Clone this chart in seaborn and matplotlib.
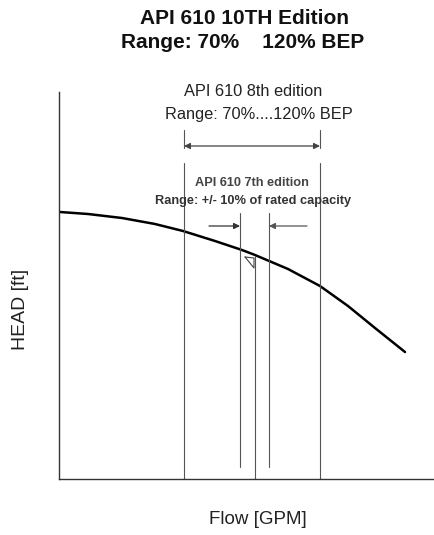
import numpy as np
import pandas as pd
import matplotlib
matplotlib.use("Agg")
import matplotlib.pyplot as plt
import seaborn as sns

# pump curve (flow, head in arbitrary units)
flow = [1, 29, 63, 96, 124, 156, 183, 196, 229, 261, 289, 316, 346]
head = [267, 265, 261, 255, 248, 238, 229, 224, 210, 193, 173, 151, 127]

# marker positions on the flow axis
q_70 = 125
q_bep = 196
q_minus10 = 181
q_plus10 = 210
q_120 = 261

title_lines = ["API 610 10TH Edition", "Range: 70%    120% BEP"]
label_8th = ["API 610 8th edition", "Range: 70%....120% BEP"]
label_7th = ["API 610 7th edition", "Range: +/- 10% of rated capacity"]

sns.set_style("white")
plt.rcParams["font.family"] = ["Liberation Sans", "DejaVu Sans"]

fig = plt.figure(figsize=(4.35, 5.35), dpi=100)
ax = fig.add_axes([59 / 435, 1 - 479 / 535, 376 / 435, 387 / 535])

df = pd.DataFrame({"flow": flow, "head": head})
sns.lineplot(data=df, x="flow", y="head", ax=ax, color="black", linewidth=1.8)

ax.set_xlim(0, 376)
ax.set_ylim(0, 387)
ax.set_xticks([])
ax.set_yticks([])
for side in ["top", "right"]:
    ax.spines[side].set_visible(False)
for side in ["left", "bottom"]:
    ax.spines[side].set_color("#333333")
    ax.spines[side].set_linewidth(1.0)

ax.set_xlabel("")
ax.set_ylabel("")
fig.text(258 / 435, 1 - 520 / 535, "Flow [GPM]", ha="center", va="center", fontsize=13.5, color="#222222")
fig.text(21 / 435, 1 - 309 / 535, "HEAD [ft]", ha="center", va="center", rotation=90, fontsize=14, color="#222222")

line_kw = dict(color="#555555", linewidth=0.8)
# 8th edition limits
for q in [q_70, q_120]:
    ax.plot([q, q], [0, 316], **line_kw)
    ax.plot([q, q], [331, 349], clip_on=False, **line_kw)
ax.annotate("", xy=(q_70, 333), xytext=(q_120, 333),
            arrowprops=dict(arrowstyle="<|-|>", color="#444444", lw=0.9, shrinkA=0, shrinkB=0,
                            mutation_scale=9), annotation_clip=False)

# 7th edition limits
for q in [q_minus10, q_plus10]:
    ax.plot([q, q], [12, 266], **line_kw)
ax.plot([q_bep, q_bep], [0, 223], **line_kw)
ax.annotate("", xy=(q_minus10, 253), xytext=(q_minus10 - 31, 253),
            arrowprops=dict(arrowstyle="-|>", color="#333333", lw=0.9, shrinkA=0, shrinkB=0,
                            mutation_scale=9))
ax.annotate("", xy=(q_plus10, 253), xytext=(q_plus10 + 38, 253),
            arrowprops=dict(arrowstyle="-|>", color="#555555", lw=0.9, shrinkA=0, shrinkB=0,
                            mutation_scale=9))
# little flag at BEP
ax.plot([q_bep - 10, q_bep - 1, q_bep - 1, q_bep - 10], [222, 221, 211, 222], color="#444444", linewidth=0.8)

fig.text(245 / 435, 1 - 18 / 535, title_lines[0], ha="center", va="center", fontsize=15, fontweight="bold", color="#111111")
fig.text(243 / 435, 1 - 42 / 535, title_lines[1], ha="center", va="center", fontsize=15, fontweight="bold", color="#111111")

ax.text(194, 388, label_8th[0], ha="center", va="center", fontsize=11.8, color="#222222", clip_on=False)
ax.text(200, 364, label_8th[1], ha="center", va="center", fontsize=11.8, color="#222222", clip_on=False)
ax.text(193, 296, label_7th[0], ha="center", va="center", fontsize=9.2, fontweight="bold", color="#444444")
ax.text(194, 278, label_7th[1], ha="center", va="center", fontsize=9.2, fontweight="bold", color="#333333")

fig.savefig("out.png", dpi=100)
plt.close(fig)
